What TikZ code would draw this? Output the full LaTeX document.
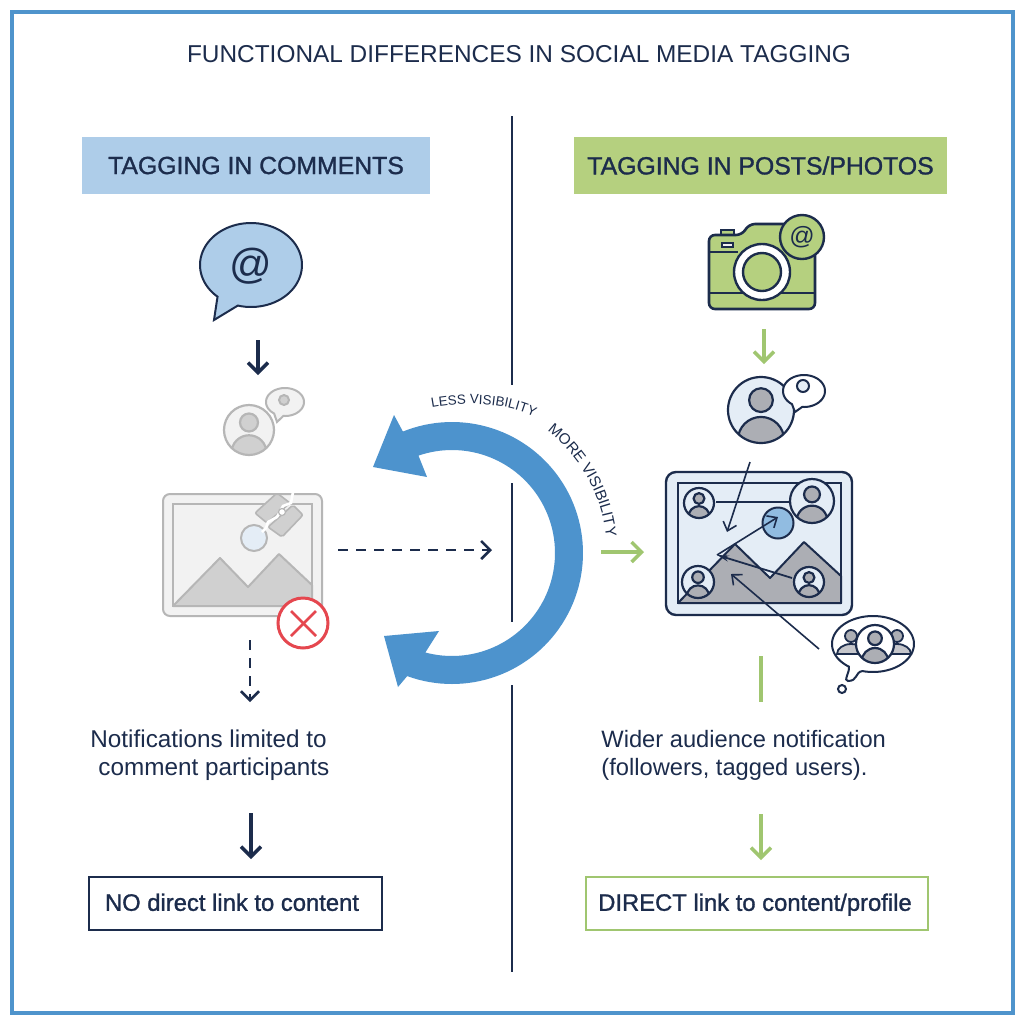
\documentclass[tikz,border=0pt]{standalone}
\usepackage{fontspec}
\setmainfont{Liberation Sans}
\newfontfamily\medfont[FakeBold=1.2]{Liberation Sans}
\usetikzlibrary{arrows.meta,decorations.text,shapes.geometric}
\definecolor{navy}{RGB}{28,44,76}
\definecolor{frameblue}{RGB}{79,148,204}
\definecolor{arcblue}{RGB}{77,147,205}
\definecolor{headblue}{RGB}{174,205,233}
\definecolor{headgreen}{RGB}{181,208,127}
\definecolor{linegreen}{RGB}{160,198,112}
\definecolor{iceblue}{RGB}{228,237,246}
\definecolor{slate}{RGB}{172,174,180}
\definecolor{greyline}{RGB}{182,182,182}
\definecolor{greyfill}{RGB}{242,242,242}
\definecolor{greybody}{RGB}{208,208,208}
\definecolor{crossred}{RGB}{229,71,79}
\tikzset{
    header/.style={
        minimum height=28.5pt,
        text=navy,
        font=\medfont\fontsize{12.4}{14}\selectfont
    },
    linkbox/.style={
        draw=#1,
        line width=1pt,
        fill=white,
        minimum height=26.5pt,
        text height=9.5pt,
        text depth=2.2pt,
        text=navy,
        font=\medfont\fontsize{11.9}{14}\selectfont
    },
    note/.style={
        text=navy,
        inner sep=0pt,
        anchor=west,
        align=left,
        font=\fontsize{#1}{14}\selectfont
    },
    bigarrow/.style={
        line width=1.7pt,
        draw=#1,
        -{Straight Barb[length=5pt,width=10pt,line width=1.7pt]}
    },
    dasharrow/.style={
        line width=1.3pt,
        draw=navy,
        dash pattern=on 5pt off 4pt,
        -{Straight Barb[length=4.5pt,width=9pt,line width=1.3pt]}
    },
    thinarrow/.style={
        line width=0.8pt,
        draw=navy,
        -{Straight Barb[length=4pt,width=7pt,line width=0.8pt]}
    },
    curvedtext/.style 2 args={
        decorate,
        decoration={text along path,text align=center,
            text={|\fontsize{#1}{9}\selectfont\color{navy}|#2}}
    }
}
% one person in a circle
\newcommand{\person}[6]{% x, y, radius, line, circle fill, body fill
    \begin{scope}
        \clip (#1,#2) circle [radius=#3];
        \fill[#5] (#1,#2) circle [radius=#3];
        \draw[#4, fill=#6, line width=1.1pt] (#1,#2+0.91*#3) ellipse [x radius=0.7*#3, y radius=0.7*#3];
    \end{scope}
    \draw[#4, fill=#6, line width=1.1pt] (#1,#2-0.3*#3) circle [radius=0.36*#3];
    \draw[#4, line width=1.1pt] (#1,#2) circle [radius=#3];
}
\begin{document}
\begin{tikzpicture}[x=0.5pt,y=-0.5pt]
    \useasboundingbox (0,0) rectangle (1024,1024);
    \fill[white] (0,0) rectangle (1024,1024);

    % Frame
    \draw[frameblue, line width=1.6pt] (12,12) rectangle (1013,1013);

    % Title
    \node[text=navy, font=\fontsize{12.2}{14}\selectfont] (title) at (519,54) {FUNCTIONAL DIFFERENCES IN SOCIAL MEDIA TAGGING};

    % Divider
    \draw[navy, line width=0.9pt] (512,116) -- (512,385);
    \draw[navy, line width=0.9pt] (512,483) -- (512,622);
    \draw[navy, line width=0.9pt] (512,685) -- (512,972);

    % Headers
    \node[header, fill=headblue, minimum width=174pt] (commenthead) at (256,165.5) {TAGGING IN COMMENTS};
    \node[header, fill=headgreen, minimum width=186.5pt] (posthead) at (760.5,165.5) {TAGGING IN POSTS/PHOTOS};

    % Speech bubble
    \draw[navy, line width=1pt, fill=headblue]
        plot[domain=131:465, samples=80] ({251+51*cos(\x)},{265+42*sin(\x)}) -- (214,320) -- cycle;
    \node[text=navy, font=\fontsize{21}{24}\selectfont] (atcomment) at (251,266) {@};

    % Grey person
    \draw[greyline, line width=1pt, fill=greyfill]
        plot[domain=125:455, samples=60] ({285+19*cos(\x)},{402+14*sin(\x)}) -- (277,422) -- cycle;
    \draw[greyline, line width=1pt, fill=greybody] (284,400) circle [radius=5];
    \person{249}{430}{25}{greyline}{greyfill}{greybody}

    % Grey image
    \draw[greyline, line width=1pt, fill=greyfill, rounded corners=3.5pt] (163,494) rectangle (322,616);
    \draw[greyline, line width=1pt, fill=greyfill] (173,504) rectangle (312,606);
    \draw[greyline, line width=1pt, fill=greybody, line join=round]
        (173,606) -- (220,558) -- (248,587) -- (279,554) -- (312,585) -- (312,606) -- cycle;
    \draw[greyline, line width=1pt, fill=iceblue] (254,538) circle [radius=13];
    \draw[greyline, line width=0.8pt, fill=greybody, rounded corners=1pt] (255,513) -- (277,493) -- (290,503) -- (267,523) -- cycle;
    \draw[greyline, line width=0.8pt, fill=greybody, rounded corners=1pt] (268,527) -- (293,505) -- (303,515) -- (282,537) -- cycle;
    \draw[white, line width=1.3pt] (293,492) -- (291,503) -- (283,506) -- (277,517) -- (268,522) -- (266,528) -- (262,532);
    \draw[greyline, fill=white, line width=0.6pt] (282,512) circle [radius=3.5];

    % Red cross
    \node[circle, draw=crossred, fill=white, line width=1.5pt, minimum size=25pt, inner sep=0pt] (cross) at (303,623) {};
    \draw[crossred, line width=1.3pt] (291,611) -- (316,636);
    \draw[crossred, line width=1.3pt] (316,611) -- (291,636);

    % Big arrow
    \fill[arcblue] (373,467) -- (394,415)
        -- plot[domain=-112:110, samples=90] ({452+131*cos(\x)},{553+131*sin(\x)})
        -- (398,687) -- (384,636) -- (439,631)
        -- plot[domain=105:-109, samples=90] ({452+103*cos(\x)},{553+103*sin(\x)})
        -- (427,477) -- cycle;

    % Curved labels
    \path[curvedtext={6.7}{LESS VISIBILITY}] (429,408) .. controls (465,401) and (505,402) .. (537,418);
    \path[curvedtext={7.6}{MORE VISIBILITY}] plot[domain=-54:-4, samples=30] ({452+155*cos(\x)},{553+155*sin(\x)});

    % Camera
    \draw[navy, line width=1pt, fill=headgreen] (721,235) -- (721,230) -- (734,230) -- (734,235);
    \draw[navy, line width=1.3pt, fill=headgreen, rounded corners=3pt]
        (709,235) -- (742,235) -- (749,224) -- (790,224) -- (815,235) -- (815,309) -- (709,309) -- cycle;
    \draw[navy, line width=1.1pt] (709,252) -- (738,252);
    \draw[navy, line width=1.1pt] (709,293) -- (815,293);
    \draw[navy, line width=0.8pt, fill=greyfill] (722,243) rectangle (733,247);
    \draw[navy, line width=1.2pt, fill=white] (762,272) circle [radius=28];
    \draw[navy, line width=1.2pt, fill=headgreen] (762,272) circle [radius=19];
    \node[circle, draw=navy, fill=headgreen, line width=1.2pt, minimum size=22pt, inner sep=0pt, text=navy, font=\fontsize{12.5}{13}\selectfont] (atpost) at (802,237) {@};

    % Navy person
    \person{761}{410}{33}{navy}{iceblue}{slate}
    \draw[navy, line width=1pt, fill=white]
        plot[domain=125:455, samples=60] ({804+21*cos(\x)},{391+16*sin(\x)}) -- (795,412) -- cycle;
    \draw[navy, line width=1pt, fill=iceblue] (803,386) circle [radius=6];

    % Tagged image
    \draw[navy, line width=1.2pt, fill=iceblue, rounded corners=5pt] (666,472) rectangle (852,615);
    \draw[navy, line width=1.2pt, fill=iceblue] (678,483) rectangle (841,603);
    \draw[navy, line width=1pt, fill=slate, line join=round]
        (678,603) -- (735,544) -- (770,578) -- (804,542) -- (841,576) -- (841,603) -- cycle;
    \draw[navy, line width=1pt, fill=headblue!70!arcblue] (778,523) circle [radius=15.5];
    \draw[navy, line width=1pt] (716,502) -- (790,502);
    \person{699}{503}{15}{navy}{iceblue}{slate}
    \person{812}{501}{22}{navy}{iceblue}{slate}
    \person{698}{582}{16}{navy}{iceblue}{slate}
    \person{809}{582}{15}{navy}{iceblue}{slate}

    % Group thought bubble
    \draw[navy, line width=1pt, fill=white]
        plot[domain=126:465, samples=80] ({873+41*cos(\x)},{644+28*sin(\x)})
        .. controls (855,672) and (858,681) .. (848,681) .. controls (843,681) and (850,672) .. cycle;
    \draw[navy, line width=1pt, fill=white] (842,689) circle [radius=4];
    \draw[navy, line width=0.9pt, fill=slate!70] (837,654) arc [start angle=180, end angle=360, x radius=14, y radius=10] -- cycle;
    \draw[navy, line width=0.9pt, fill=slate!70] (883,654) arc [start angle=180, end angle=360, x radius=14, y radius=10] -- cycle;
    \draw[navy, line width=0.9pt, fill=slate] (851,636) circle [radius=6];
    \draw[navy, line width=0.9pt, fill=slate] (897,636) circle [radius=6];
    \person{875}{644}{19}{navy}{white}{slate}

    % Thin tag arrows
    \coordinate (tagfrom) at (750,462);
    \coordinate (tagto) at (727,532);
    \coordinate (peak) at (717,555);
    \coordinate (blueend) at (778,517);
    \coordinate (dperson) at (792,578);
    \coordinate (groupfrom) at (819,649);
    \coordinate (groupto) at (731,574);
    \draw[thinarrow] (tagfrom) -- (tagto);
    \draw[thinarrow] (peak) -- (blueend);
    \draw[navy, line width=0.9pt, -{Stealth[length=6pt,width=3pt]}] (dperson) -- (peak);
    \draw[thinarrow] (groupfrom) -- (groupto);

    % Arrows
    \coordinate (a1) at (258,340);
    \coordinate (a2) at (258,375);
    \coordinate (a3) at (338,550);
    \coordinate (a4) at (492,550);
    \coordinate (a5) at (601,552);
    \coordinate (a6) at (644,552);
    \coordinate (a7) at (250,640);
    \coordinate (a8) at (250,702);
    \coordinate (a9) at (764,329);
    \coordinate (a10) at (764,364);
    \coordinate (a11) at (761,656);
    \coordinate (a12) at (761,702);
    \coordinate (a13) at (251,813);
    \coordinate (a14) at (251,859);
    \coordinate (a15) at (761,814);
    \coordinate (a16) at (761,860);
    \draw[bigarrow=navy] (a1) -- (a2);
    \draw[dasharrow] (a3) -- (a4);
    \draw[bigarrow=linegreen] (a5) -- (a6);
    \draw[dasharrow] (a7) -- (a8);
    \draw[bigarrow=linegreen] (a9) -- (a10);
    \draw[linegreen, line width=2pt] (a11) -- (a12);
    \draw[bigarrow=navy] (a13) -- (a14);
    \draw[bigarrow=linegreen] (a15) -- (a16);

    % Notes
    \node[note=12.15] (leftnote) at (90,755) {Notifications limited to\\\hspace{4pt}comment participants};
    \node[note=11.85] (rightnote) at (601,755) {Wider audience notification\\(followers, tagged users).};

    % Link boxes
    \node[linkbox=navy, minimum width=146.5pt] (nolink) at (235.5,903.5) {NO direct link to content\kern3.5pt};
    \node[linkbox=linegreen, minimum width=171pt] (directlink) at (757,903.5) {DIRECT link to content/profile\kern2pt};
\end{tikzpicture}
\end{document}
